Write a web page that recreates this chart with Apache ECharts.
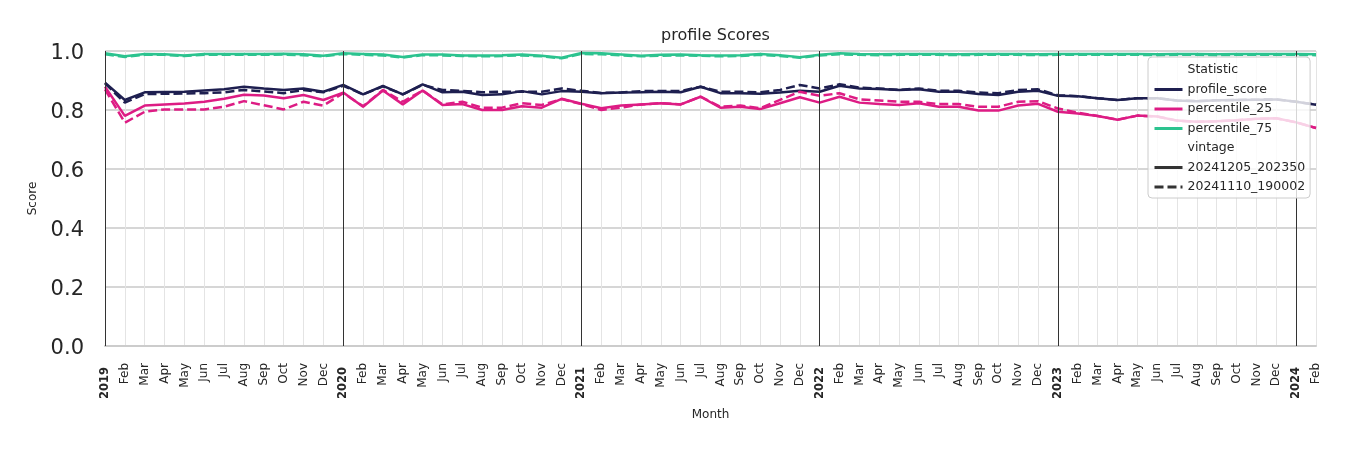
<!DOCTYPE html>
<html>
<head>
<meta charset="utf-8">
<script src="https://cdn.jsdelivr.net/npm/echarts@6/dist/echarts.min.js"></script>
<style>html,body{margin:0;padding:0;background:#fff;}#c{width:1350px;height:450px;}</style>
</head>
<body>
<div id="c"></div>
<script>
const monthNames = ['Jan','Feb','Mar','Apr','May','Jun','Jul','Aug','Sep','Oct','Nov','Dec'];
const categories = [
 '2019-01','2019-02','2019-03','2019-04','2019-05','2019-06','2019-07','2019-08','2019-09','2019-10','2019-11','2019-12',
 '2020-01','2020-02','2020-03','2020-04','2020-05','2020-06','2020-07','2020-08','2020-09','2020-10','2020-11','2020-12',
 '2021-01','2021-02','2021-03','2021-04','2021-05','2021-06','2021-07','2021-08','2021-09','2021-10','2021-11','2021-12',
 '2022-01','2022-02','2022-03','2022-04','2022-05','2022-06','2022-07','2022-08','2022-09','2022-10','2022-11','2022-12',
 '2023-01','2023-02','2023-03','2023-04','2023-05','2023-06','2023-07','2023-08','2023-09','2023-10','2023-11','2023-12',
 '2024-01','2024-02'];
const yearStarts = ['2019-01','2020-01','2021-01','2022-01','2023-01','2024-01'];
const yTicks = [0, 0.2, 0.4, 0.6, 0.8, 1.0];

// vintage 20241205_202350 (solid)
const profileNew = [0.893,0.834,0.860,0.861,0.862,0.866,0.870,0.879,0.873,0.868,0.873,0.862,
 0.885,0.853,0.882,0.853,0.887,0.860,0.862,0.851,0.853,0.864,0.853,0.864,
 0.862,0.857,0.859,0.860,0.862,0.860,0.879,0.857,0.857,0.855,0.859,0.865,
 0.862,0.882,0.873,0.871,0.868,0.870,0.862,0.862,0.854,0.851,0.862,0.865,
 0.848,0.847,0.840,0.834,0.840,0.840,0.832,0.830,0.833,0.834,0.835,0.836,
 0.828,0.818];
const p25New = [0.879,0.780,0.815,0.819,0.822,0.828,0.838,0.852,0.849,0.840,0.851,0.834,
 0.859,0.811,0.866,0.819,0.866,0.817,0.820,0.800,0.800,0.813,0.808,0.838,
 0.821,0.806,0.815,0.819,0.823,0.819,0.845,0.808,0.811,0.803,0.823,0.843,
 0.825,0.845,0.825,0.820,0.817,0.823,0.811,0.811,0.798,0.798,0.815,0.821,
 0.794,0.788,0.780,0.767,0.781,0.778,0.764,0.760,0.762,0.765,0.770,0.772,
 0.758,0.739];
const p75New = [0.992,0.982,0.990,0.989,0.985,0.990,0.990,0.990,0.990,0.991,0.989,0.984,
 0.992,0.990,0.988,0.980,0.988,0.988,0.985,0.985,0.986,0.988,0.984,0.977,
 0.993,0.992,0.988,0.984,0.987,0.988,0.986,0.985,0.986,0.990,0.986,0.979,
 0.987,0.992,0.990,0.989,0.990,0.990,0.990,0.989,0.990,0.990,0.990,0.989,
 0.990,0.990,0.990,0.990,0.990,0.989,0.990,0.990,0.989,0.990,0.990,0.990,
 0.990,0.989];

// vintage 20241110_190002 (dashed)
const profileOld = [0.890,0.825,0.854,0.855,0.856,0.857,0.860,0.868,0.863,0.857,0.868,0.860,
 0.882,0.853,0.880,0.853,0.885,0.868,0.865,0.860,0.862,0.862,0.862,0.873,
 0.865,0.858,0.859,0.864,0.864,0.864,0.879,0.862,0.862,0.860,0.868,0.885,
 0.873,0.887,0.876,0.873,0.868,0.873,0.865,0.865,0.859,0.857,0.868,0.870,
 0.850,0.847,0.840,0.834,0.840,0.840,0.832,0.830,0.833,0.834,0.835,0.836,
 0.828,0.818];
const p25Old = [0.870,0.757,0.794,0.802,0.802,0.802,0.811,0.830,0.816,0.802,0.828,0.815,
 0.857,0.813,0.868,0.828,0.866,0.819,0.828,0.808,0.808,0.823,0.817,0.837,
 0.820,0.800,0.808,0.819,0.823,0.819,0.845,0.811,0.815,0.806,0.834,0.862,
 0.848,0.857,0.836,0.832,0.828,0.828,0.820,0.820,0.811,0.811,0.828,0.830,
 0.805,0.791,0.780,0.767,0.781,0.778,0.764,0.760,0.762,0.765,0.770,0.772,
 0.758,0.739];
const p75Old = [0.989,0.980,0.987,0.987,0.983,0.987,0.987,0.987,0.987,0.988,0.986,0.982,
 0.990,0.987,0.985,0.978,0.986,0.985,0.983,0.982,0.983,0.985,0.982,0.975,
 0.990,0.989,0.985,0.982,0.984,0.985,0.984,0.982,0.983,0.987,0.983,0.977,
 0.985,0.989,0.987,0.986,0.987,0.987,0.987,0.986,0.987,0.987,0.987,0.986,
 0.987,0.987,0.987,0.987,0.987,0.986,0.987,0.987,0.986,0.987,0.987,0.987,
 0.987,0.986];

const statNames = ['profile_score','percentile_25','percentile_75'];
const vintageNames = ['20241205_202350','20241110_190002'];
const colors = {profile_score:'#1e1f50', percentile_25:'#dd1c84', percentile_75:'#2cc38f'};

const FONT = 'DejaVu Sans';
const dashPattern = [9, 4];

function lineSeries(name, data, dashed) {
  return {
    name: name, type: 'line', data: data, symbol: 'none', z: dashed ? 4 : 3,
    lineStyle: {color: colors[name], width: 2.5, type: dashed ? dashPattern : 'solid'},
    itemStyle: {color: colors[name]},
    emphasis: {disabled: true}, animation: false
  };
}
function dummy(name, color, type) {
  return {name: name, type: 'line', data: [], symbol: 'none',
    lineStyle: {color: color, width: 2.5, type: type},
    itemStyle: {color: color}, animation: false};
}

const series = [
  {name: 'years', type: 'line', data: [], z: 1, animation: false,
   markLine: {silent: true, symbol: ['none','none'], label: {show: false},
     lineStyle: {color: '#333333', width: 1, type: 'solid'},
     emphasis: {disabled: true}, animation: false,
     data: yearStarts.map(y => ({xAxis: y}))}},
  lineSeries('percentile_75', p75New, false),
  lineSeries('percentile_25', p25New, false),
  lineSeries('profile_score', profileNew, false),
  lineSeries('percentile_75', p75Old, true),
  lineSeries('percentile_25', p25Old, true),
  lineSeries('profile_score', profileOld, true),
  dummy('Statistic', 'rgba(0,0,0,0)', 'solid'),
  dummy('vintage', 'rgba(0,0,0,0)', 'solid'),
  dummy(vintageNames[0], '#333333', 'solid'),
  dummy(vintageNames[1], '#333333', dashPattern)
];

const chart = echarts.init(document.getElementById('c'), null, {renderer: 'canvas'});
chart.setOption({
  animation: false,
  backgroundColor: '#ffffff',
  textStyle: {fontFamily: FONT},
  title: {
    text: 'profile Scores', left: 710.5, top: 23, textAlign: 'center',
    textStyle: {fontFamily: FONT, fontSize: 16, fontWeight: 'normal', color: '#262626'}
  },
  legend: {
    orient: 'vertical', left: 1148, top: 57, z: 20,
    data: ['Statistic'].concat(statNames, ['vintage'], vintageNames),
    backgroundColor: 'rgba(255,255,255,0.8)', borderColor: '#cccccc', borderWidth: 1, borderRadius: 4,
    padding: [6, 5, 4, 5], itemWidth: 28, itemHeight: 14, itemGap: 5.5, itemTextGap: 8,
    itemStyle: {color: 'rgba(0,0,0,0)', borderColor: 'rgba(0,0,0,0)', borderWidth: 0},
    lineStyle: {width: 3},
    textStyle: {fontFamily: FONT, fontSize: 12.5, lineHeight: 14, color: '#262626'},
    inactiveColor: '#262626', selectedMode: false
  },
  grid: {left: 105, right: 34, top: 51, bottom: 104, containLabel: false, outerBoundsMode: 'none'},
  xAxis: {
    type: 'category', data: categories, boundaryGap: false,
    name: 'Month', nameLocation: 'middle', nameGap: 63,
    nameTextStyle: {fontFamily: FONT, fontSize: 12, color: '#262626'},
    axisLine: {show: true, lineStyle: {color: '#cccccc', width: 2}},
    axisTick: {show: false},
    axisLabel: {
      interval: 0, rotate: 90, margin: 17, fontFamily: FONT, fontSize: 12, color: '#262626',
      formatter: function (v) {
        const parts = v.split('-');
        const m = parseInt(parts[1], 10);
        return m === 1 ? '{yr|' + parts[0] + '}' : monthNames[m - 1];
      },
      rich: {yr: {fontWeight: 'bold', fontFamily: FONT, fontSize: 11.5, color: '#262626', padding: [0, 4, 0, 0]}}
    },
    splitLine: {show: true, interval: 0, lineStyle: {color: '#e4e4e4', width: 1}}
  },
  yAxis: {
    type: 'value', min: 0, max: 1, interval: 0.2,
    name: 'Score', nameLocation: 'middle', nameGap: 66, nameRotate: 90,
    nameTextStyle: {fontFamily: FONT, fontSize: 12, color: '#262626'},
    axisLine: {show: false}, axisTick: {show: false},
    axisLabel: {margin: 21, fontFamily: FONT, fontSize: 21, color: '#262626',
      formatter: v => yTicks.indexOf(Math.round(v * 10) / 10) >= 0 ? '{t|' + v.toFixed(1) + '}' : '',
      rich: {t: {fontFamily: FONT, fontSize: 21, color: '#262626', padding: [5, 0, 0, 0]}}},
    splitLine: {show: true, lineStyle: {color: '#c8c8c8', width: 1.5}}
  },
  series: series
});
</script>
</body>
</html>
